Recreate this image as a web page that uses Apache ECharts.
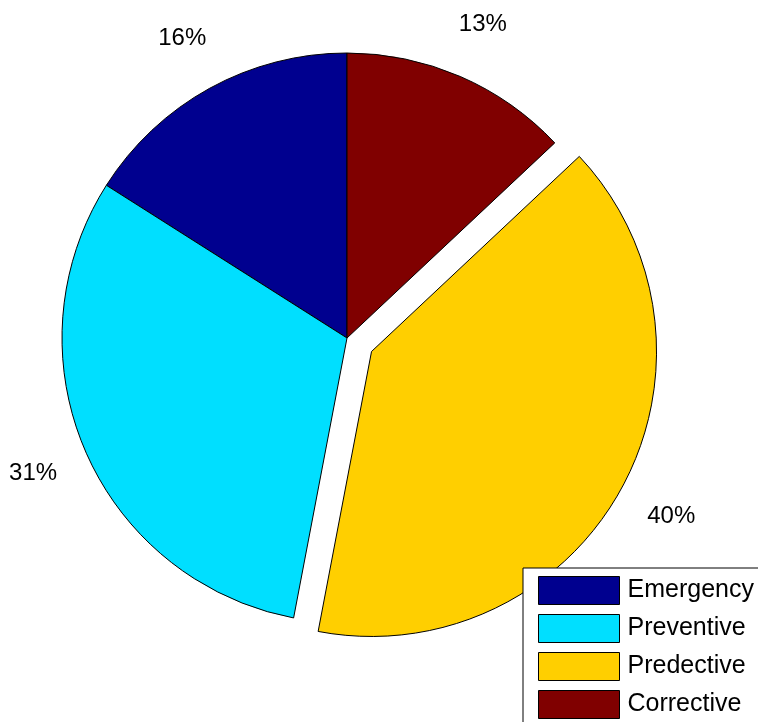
<!DOCTYPE html>
<html>
<head>
<meta charset="utf-8">
<script src="https://cdn.jsdelivr.net/npm/echarts@6/dist/echarts.min.js"></script>
<style>
  html, body { margin: 0; padding: 0; background: #fff; }
  #chart { width: 758px; height: 722px; }
</style>
</head>
<body>
<div id="chart"></div>
<script>
const categories = ['Emergency', 'Preventive', 'Predective', 'Corrective'];
const values = [16, 31, 40, 13];
const colors = ['#00008F', '#00DFFF', '#FFCF00', '#800000'];
const explodedCategory = 'Predective';

const chart = echarts.init(document.getElementById('chart'));

const mainData = categories.map((name, i) => ({
  name: name,
  value: values[i],
  selected: name === explodedCategory,
  itemStyle: { color: colors[i] }
}));
const labelData = categories.map((name, i) => ({
  name: name,
  value: values[i],
  selected: name === explodedCategory
}));

const option = {
  backgroundColor: '#ffffff',
  animation: false,
  legend: {
    orient: 'vertical',
    left: 523,
    top: 568,
    width: 260,
    height: 200,
    padding: [8, 15, 12, 15],
    itemWidth: 81,
    itemHeight: 28,
    itemGap: 9,
    borderColor: '#000',
    borderWidth: 1,
    backgroundColor: '#ffffff',
    selectedMode: false,
    data: categories.map((name, i) => ({
      name: name,
      icon: 'rect',
      itemStyle: { color: colors[i], borderColor: '#000', borderWidth: 1 }
    })),
    textStyle: {
      fontFamily: 'Liberation Sans, Arial, sans-serif',
      fontSize: 25,
      color: '#000',
      padding: [0, 0, 0, 3]
    }
  },
  series: [
    {
      type: 'pie',
      center: [347, 338],
      radius: 285,
      startAngle: 90,
      clockwise: false,
      selectedMode: 'single',
      selectedOffset: 28,
      avoidLabelOverlap: false,
      emphasis: { disabled: true },
      itemStyle: { borderColor: '#000', borderWidth: 1 },
      label: { show: false },
      labelLine: { show: false },
      data: mainData
    },
    {
      type: 'pie',
      center: [347, 338],
      radius: [330, 348],
      startAngle: 90,
      clockwise: false,
      selectedMode: 'single',
      selectedOffset: 28,
      silent: true,
      legendHoverLink: false,
      emphasis: { disabled: true },
      itemStyle: { color: 'rgba(0,0,0,0)', borderWidth: 0 },
      label: {
        show: true,
        position: 'inside',
        formatter: '{d}%',
        fontFamily: 'Liberation Sans, Arial, sans-serif',
        fontSize: 24,
        color: '#000',
        textBorderWidth: 0
      },
      labelLine: { show: false },
      data: labelData
    }
  ]
};
chart.setOption(option);
</script>
</body>
</html>
